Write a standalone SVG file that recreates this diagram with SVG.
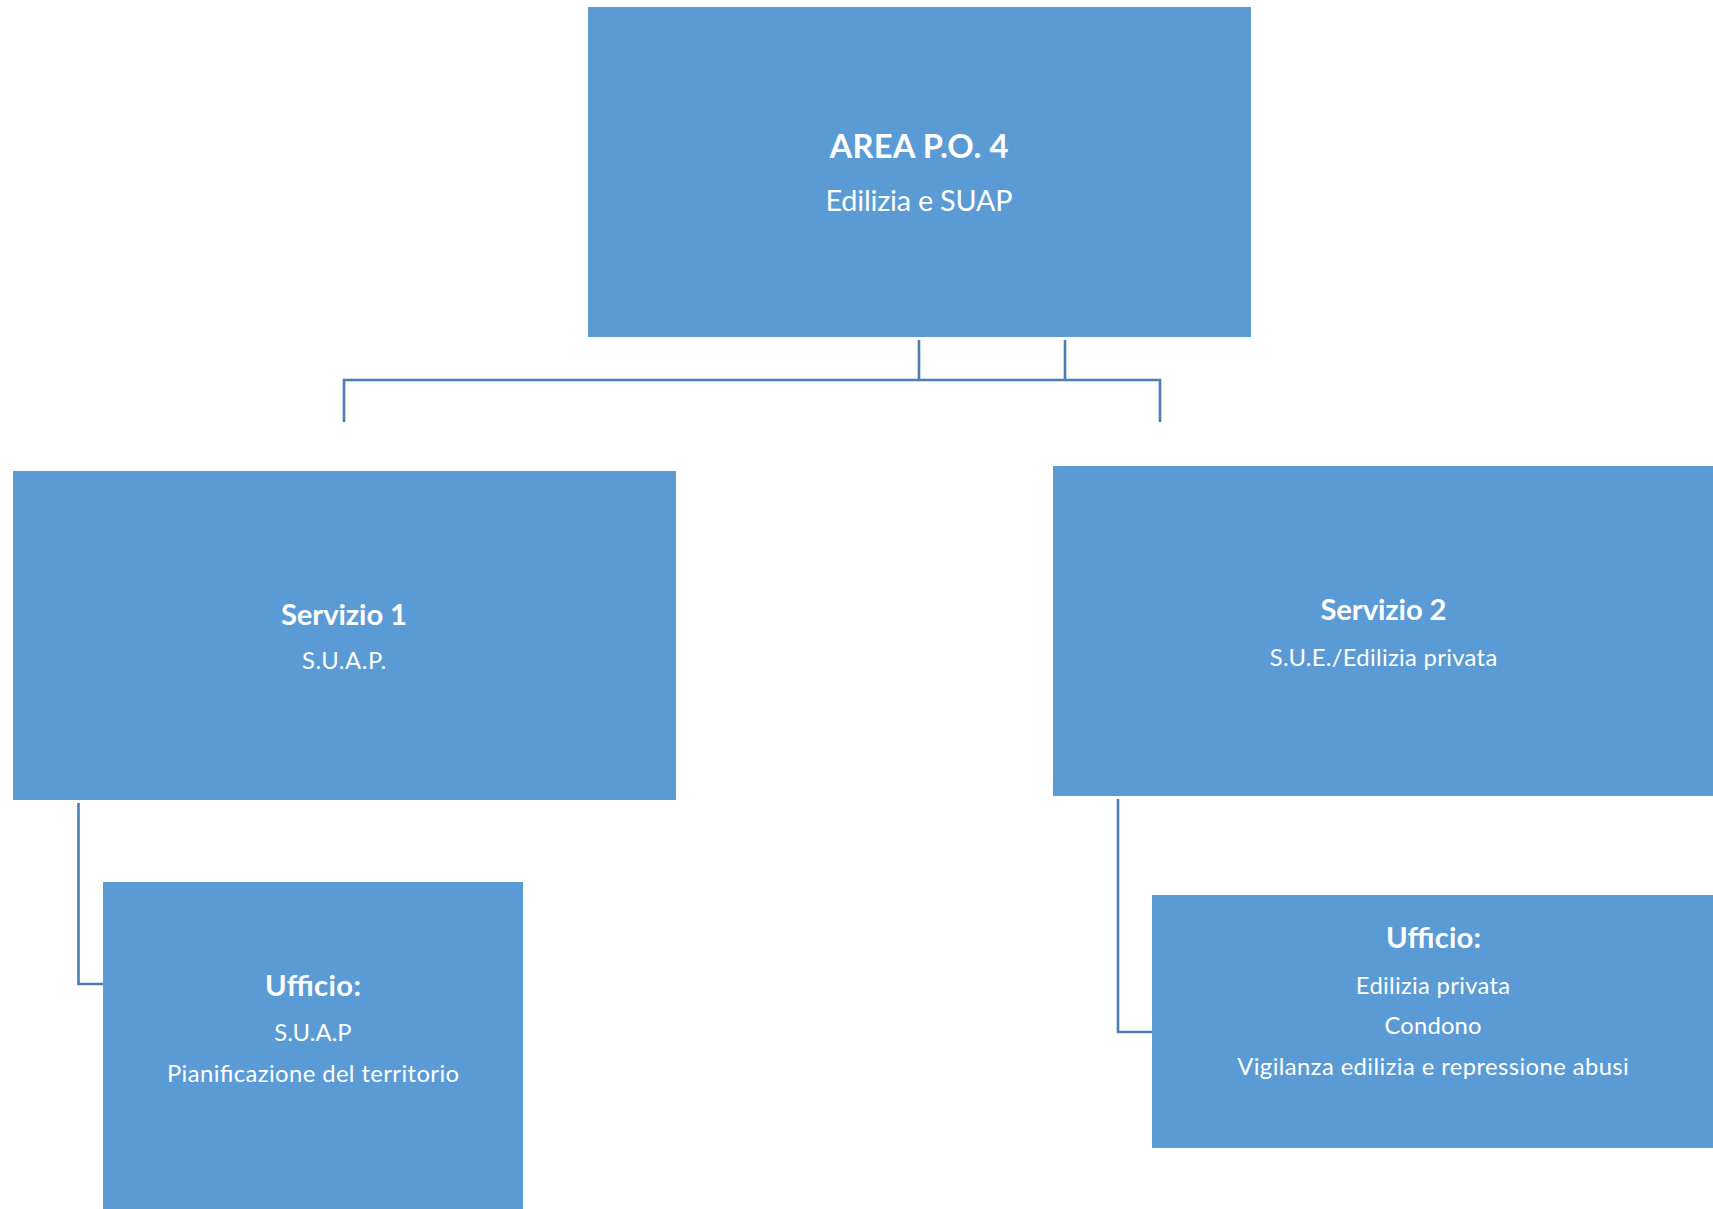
<svg xmlns="http://www.w3.org/2000/svg" width="1713" height="1209" viewBox="0 0 1713 1209">
<style>
.box{fill:#5B9BD5;}
.t{font-family:Lato,"Liberation Sans",sans-serif;fill:#FFFFFF;text-anchor:middle;}
.b{font-weight:bold;}
.conn{fill:none;stroke:#4A7DB4;stroke-width:2.6;}
</style>
<rect width="1713" height="1209" fill="#FFFFFF"/>
<g id="connectors">
<path class="conn" d="M919,340 V380"/>
<path class="conn" d="M1065,340 V380"/>
<path class="conn" d="M344,422 V380 H1160 V422"/>
<path class="conn" d="M78.5,803 V984 H103"/>
<path class="conn" d="M1118,799 V1032 H1152"/>
</g>
<g id="area-po4">
<rect class="box" x="588" y="7" width="663" height="330"/>
<text class="t b" x="919" y="158" font-size="32.8" textLength="179">AREA P.O. 4</text>
<text class="t" x="919" y="211" font-size="28.8" textLength="187">Edilizia e SUAP</text>
</g>
<g id="servizio1">
<rect class="box" x="13" y="471" width="663" height="329"/>
<text class="t b" x="344" y="625" font-size="29.2" textLength="126">Servizio 1</text>
<text class="t" x="344" y="669" font-size="23.8" textLength="84">S.U.A.P.</text>
</g>
<g id="servizio2">
<rect class="box" x="1053" y="466" width="663" height="330"/>
<text class="t b" x="1383.5" y="619.5" font-size="29.2" textLength="126">Servizio 2</text>
<text class="t" x="1383.5" y="665.5" font-size="23.8" textLength="227.5">S.U.E./Edilizia privata</text>
</g>
<g id="ufficio1">
<rect class="box" x="103" y="882" width="420" height="330"/>
<text class="t b" x="313" y="995.5" font-size="29.2" textLength="96">Ufficio:</text>
<text class="t" x="313" y="1041" font-size="23.8" textLength="77.3">S.U.A.P</text>
<text class="t" x="313" y="1082" font-size="23.8" textLength="292">Pianificazione del territorio</text>
</g>
<g id="ufficio2">
<rect class="box" x="1152" y="895" width="564" height="253"/>
<text class="t b" x="1433.5" y="948" font-size="29.2" textLength="95">Ufficio:</text>
<text class="t" x="1433" y="993.5" font-size="23.8" textLength="154.3">Edilizia privata</text>
<text class="t" x="1433" y="1034" font-size="23.8" textLength="97">Condono</text>
<text class="t" x="1433" y="1075" font-size="23.8" textLength="391.6">Vigilanza edilizia e repressione abusi</text>
</g>
</svg>
